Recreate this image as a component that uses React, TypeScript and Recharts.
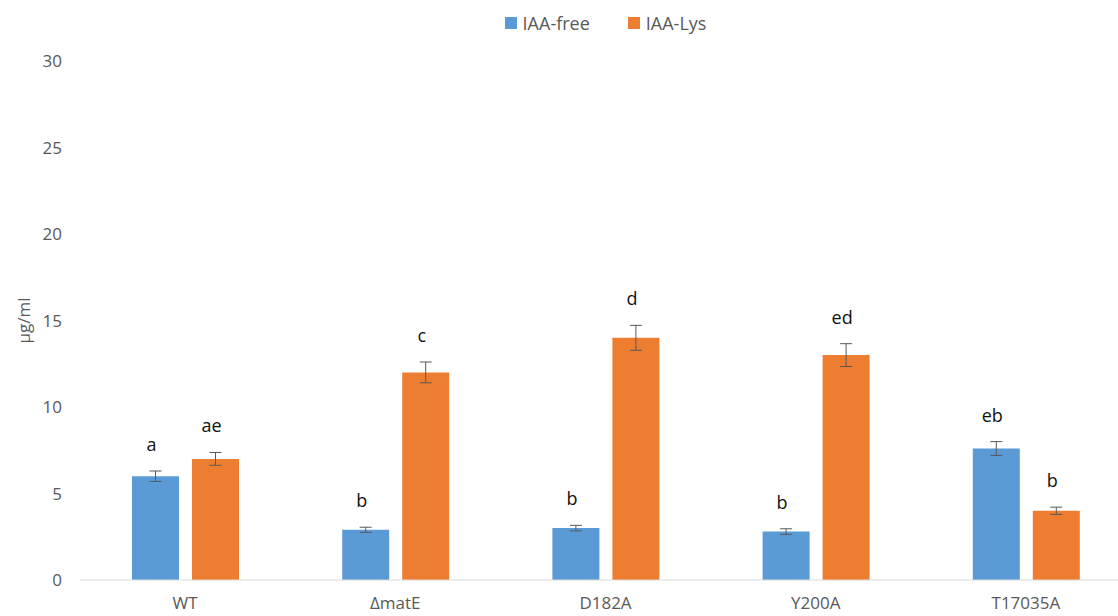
import { BarChart, Bar, XAxis, YAxis, ErrorBar, LabelList, Legend } from 'recharts';

const strains = ['WT', 'ΔmatE', 'D182A', 'Y200A', 'T17035A'];
const iaaFree = [6.0, 2.9, 3.0, 2.8, 7.6];
const iaaFreeErr = [0.3, 0.15, 0.16, 0.16, 0.4];
const iaaFreeLetters = ['a', 'b', 'b', 'b', 'eb'];
const iaaLys = [7.0, 12.0, 14.0, 13.0, 4.0];
const iaaLysErr = [0.37, 0.6, 0.72, 0.66, 0.21];
const iaaLysLetters = ['ae', 'c', 'd', 'ed', 'b'];
const yTicks = [0, 5, 10, 15, 20, 25, 30];

const BLUE = '#5B9BD5';
const ORANGE = '#ED7D31';
const FONT = '"Open Sans", "Noto Sans", sans-serif';

const chartData = strains.map((s, i) => ({
  strain: s,
  free: iaaFree[i],
  freeErr: iaaFreeErr[i],
  freeLetter: iaaFreeLetters[i],
  lys: iaaLys[i],
  lysErr: iaaLysErr[i],
  lysLetter: iaaLysLetters[i],
}));

// letter sits above the error bar cap; pixel scale taken from the bar itself
function letterLabel(errs: number[], vals: number[]) {
  return (props: any) => {
    const { x, y, width, height, value, index } = props;
    const ppu = Number(height) / vals[index];
    const errTop = Number(y) - errs[index] * ppu;
    return (
      <text
        x={Number(x) + Number(width) / 2 - 4}
        y={errTop - 20}
        textAnchor="middle"
        fontSize={18}
        fill="#111"
        fontFamily={FONT}
      >
        {value}
      </text>
    );
  };
}

function LegendContent() {
  const items = [
    { name: 'IAA-free', color: BLUE },
    { name: 'IAA-Lys', color: ORANGE },
  ];
  return (
    <div style={{ display: 'flex', justifyContent: 'center', paddingLeft: 80, fontFamily: FONT }}>
      {items.map(it => (
        <div key={it.name} style={{ display: 'flex', alignItems: 'center', margin: '0 19px' }}>
          <span style={{ width: 12, height: 12, background: it.color, marginRight: 6, display: 'inline-block' }} />
          <span style={{ fontSize: 18, color: '#595959' }}>{it.name}</span>
        </div>
      ))}
    </div>
  );
}

export default function App() {
  return (
    <div style={{ position: 'absolute', left: 0, top: 0, width: 1118, height: 616, overflow: 'hidden', background: '#fff' }}>
      <BarChart
        width={1140}
        height={616}
        data={chartData}
        margin={{ top: 11, right: 9, bottom: 0, left: 0 }}
        barSize={47}
        barGap={13}
      >
        <Legend verticalAlign="top" height={50} content={<LegendContent />} />
        <XAxis
          dataKey="strain"
          height={36}
          tickLine={false}
          tickSize={0}
          tickMargin={17}
          axisLine={{ stroke: '#D9D9D9' }}
          tick={{ fill: '#595959', fontSize: 17, fontFamily: FONT }}
          interval={0}
        />
        <YAxis
          width={80}
          domain={[0, 30]}
          ticks={yTicks}
          axisLine={false}
          tickLine={false}
          tickSize={0}
          tickMargin={18}
          tick={{ fill: '#595959', fontSize: 17, fontFamily: FONT }}
          label={{
            content: ({ viewBox }: any) => (
              <text
                x={viewBox.x + 23}
                y={viewBox.y + viewBox.height / 2}
                transform={`rotate(-90, ${viewBox.x + 23}, ${viewBox.y + viewBox.height / 2})`}
                textAnchor="middle"
                dominantBaseline="central"
                fontSize={17}
                fill="#595959"
                fontFamily={FONT}
              >
                µg/ml
              </text>
            ),
          }}
        />
        <Bar dataKey="free" name="IAA-free" fill={BLUE} isAnimationActive={false}>
          <ErrorBar dataKey="freeErr" width={6} stroke="#595959" strokeWidth={1} />
          <LabelList dataKey="freeLetter" content={letterLabel(iaaFreeErr, iaaFree)} />
        </Bar>
        <Bar dataKey="lys" name="IAA-Lys" fill={ORANGE} isAnimationActive={false}>
          <ErrorBar dataKey="lysErr" width={6} stroke="#595959" strokeWidth={1} />
          <LabelList dataKey="lysLetter" content={letterLabel(iaaLysErr, iaaLys)} />
        </Bar>
      </BarChart>
    </div>
  );
}
